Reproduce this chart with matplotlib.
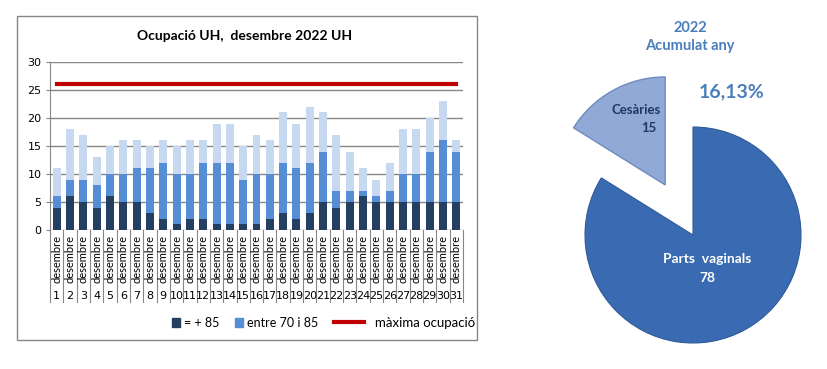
import matplotlib.pyplot as plt
import numpy as np
from matplotlib.patches import Rectangle, Patch

# dades ocupació desembre 2022
dies = list(range(1, 32))
mes = 'desembre'
mes_85 = [4, 6, 5, 4, 6, 5, 5, 3, 2, 1, 2, 2, 1, 1, 1, 1, 2, 3, 2, 3, 5, 4, 5, 6, 5, 5, 5, 5, 5, 5, 5]
entre_70_85 = [2, 3, 4, 4, 4, 5, 6, 8, 10, 9, 8, 10, 11, 11, 8, 9, 8, 9, 9, 9, 9, 3, 2, 1, 1, 2, 5, 5, 9, 11, 9]
resta = [5, 9, 8, 5, 5, 6, 5, 4, 4, 5, 6, 4, 7, 7, 6, 7, 6, 9, 8, 10, 7, 10, 7, 4, 3, 5, 8, 8, 6, 7, 2]
maxima = 26

# dades parts acumulat any
parts_labels = ['Cesàries', 'Parts  vaginals']
parts_vals = [15, 78]

W, H = 828, 369
fig = plt.figure(figsize=(W / 100, H / 100), dpi=100)
fig.patch.set_facecolor('white')


def fx(px):
    return px / W


def fy(py):
    return 1 - py / H


# marc del gràfic de barres
fig.patches.append(Rectangle((fx(17), fy(340)), fx(477) - fx(17), fy(16) - fy(340),
                             transform=fig.transFigure, fill=False, edgecolor='#868686', lw=1))

ax = fig.add_axes([fx(50), fy(230), fx(463) - fx(50), fy(62) - fy(230)])
x = np.array(dies)
c_dark, c_mid, c_light = '#243f60', '#558ed5', '#c6d9f1'
ax.bar(x, mes_85, width=0.6, color=c_dark, zorder=3)
ax.bar(x, entre_70_85, width=0.6, bottom=mes_85, color=c_mid, zorder=3)
base2 = np.array(mes_85) + np.array(entre_70_85)
ax.bar(x, resta, width=0.6, bottom=base2, color=c_light, zorder=3)
ln, = ax.plot(x, [maxima] * len(x), color='#c00000', lw=3, zorder=4)

ax.set_xlim(0.5, 31.5)
ax.set_ylim(0, 30)
ax.set_yticks(range(0, 31, 5))
ax.yaxis.grid(True, color='#868686', lw=1)
ax.set_axisbelow(True)
for s in ['top', 'right', 'bottom']:
    ax.spines[s].set_visible(False)
ax.spines['left'].set_color('#868686')
ax.tick_params(axis='y', length=3, color='#868686', labelsize=8, pad=3)
ax.set_xticks([])

# eix de categories en dos nivells
trans = ax.get_xaxis_transform()
for d in dies:
    ax.text(d, -0.175, mes, rotation=90, ha='center', va='center', fontsize=8,
            family='Lato', transform=trans, clip_on=False)
    ax.text(d, -0.393, str(d), ha='center', va='center', fontsize=8,
            family='DejaVu Sans', transform=trans, clip_on=False)
for b in np.arange(0.5, 32, 1):
    ax.plot([b, b], [0, -0.43], color='#868686', lw=0.8, transform=trans, clip_on=False)

fig.text(fx(245), fy(36), 'Ocupació UH,  desembre 2022 UH', ha='center', va='center',
         fontsize=10, fontweight='bold', family='Lato')

fig.legend([Patch(color=c_dark), Patch(color=c_mid)], ['= + 85', 'entre 70 i 85'],
           loc='center', bbox_to_anchor=(fx(245), fy(323)), ncol=2, frameon=False,
           handlelength=0.7, handleheight=0.7, handletextpad=0.3, columnspacing=1.2,
           prop={'family': 'Lato', 'size': 9})
fig.legend([ln], ['màxima ocupació'], loc='center', bbox_to_anchor=(fx(405), fy(323)),
           frameon=False, handlelength=2.2, handletextpad=0.9,
           prop={'family': 'Lato', 'size': 9.5})

# pastís acumulat any
R = 108
cx, cy = 693, 235
half = 165
axp = fig.add_axes([fx(cx - half), fy(cy + half), fx(2 * half), (2 * half) / H])
axp.axis('off')
wedges, _ = axp.pie(parts_vals, startangle=90, explode=[0.53, 0],
                    colors=['#91a9d6', '#3a6bb2'], radius=1,
                    wedgeprops=dict(edgecolor='none'))
wedges[0].set_edgecolor('#6f8bbf')
wedges[0].set_linewidth(1)
wedges[1].set_edgecolor('#2f5a98')
wedges[1].set_linewidth(0.8)
axp.set_xlim(-half / R, half / R)
axp.set_ylim(-half / R, half / R)
axp.set_aspect('equal')

axp.text(-0.30, 1.16, parts_labels[0], ha='right', va='center', fontsize=9.5,
         family='Lato', fontweight='bold', color='#1f3864')
axp.text(-0.34, 0.99, str(parts_vals[0]), ha='right', va='center', fontsize=9.5,
         family='Lato', fontweight='bold', color='#1f3864')
axp.text(0.13, -0.22, parts_labels[1], ha='center', va='center', fontsize=10,
         family='Lato', fontweight='bold', color='white')
axp.text(0.13, -0.40, str(parts_vals[1]), ha='center', va='center', fontsize=10,
         family='Lato', fontweight='bold', color='white')

pct = parts_vals[0] / sum(parts_vals) * 100
fig.text(fx(732), fy(92), f'{pct:.2f}%'.replace('.', ','), ha='center', va='center',
         fontsize=14, fontweight='bold', family='Lato', color='#4a7ebb')
fig.text(fx(690), fy(37), '2022\nAcumulat any', ha='center', va='center', fontsize=10.5,
         fontweight='bold', family='Lato', color='#4a7ebb', linespacing=1.3)

fig.savefig('out.png', dpi=100)
